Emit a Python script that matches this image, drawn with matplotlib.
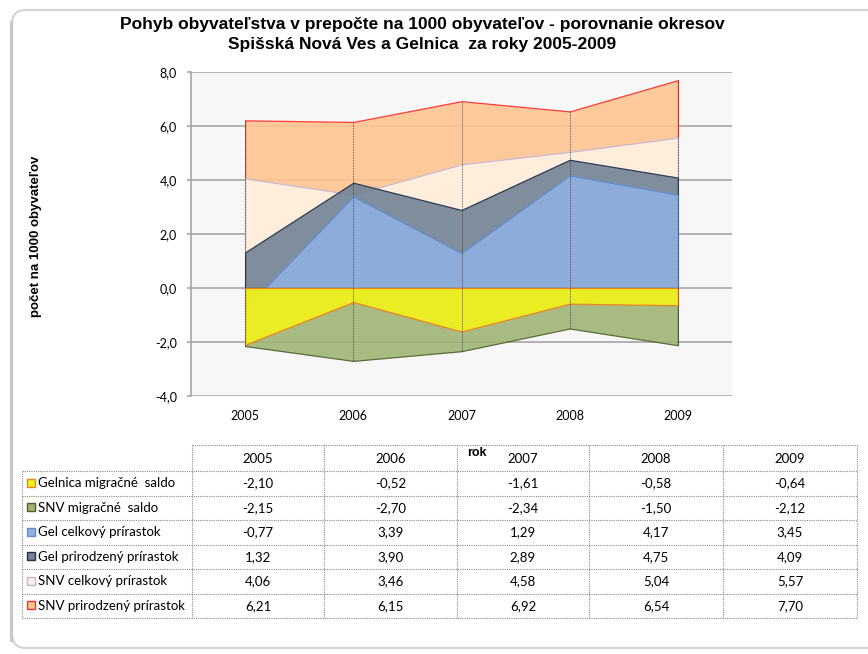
import matplotlib
matplotlib.use("Agg")
import matplotlib.pyplot as plt
from matplotlib.patches import FancyBboxPatch, Rectangle
from matplotlib.ticker import FuncFormatter
import numpy as np

# data
years = ["2005", "2006", "2007", "2008", "2009"]
series_names = ["Gelnica migračné  saldo", "SNV migračné  saldo", "Gel celkový prírastok",
                "Gel prirodzený prírastok", "SNV celkový prírastok", "SNV prirodzený prírastok"]
gel_migr = [-2.10, -0.52, -1.61, -0.58, -0.64]
snv_migr = [-2.15, -2.70, -2.34, -1.50, -2.12]
gel_celk = [-0.77, 3.39, 1.29, 4.17, 3.45]
gel_prir = [1.32, 3.90, 2.89, 4.75, 4.09]
snv_celk = [4.06, 3.46, 4.58, 5.04, 5.57]
snv_prir = [6.21, 6.15, 6.92, 6.54, 7.70]
values = [gel_migr, snv_migr, gel_celk, gel_prir, snv_celk, snv_prir]

face = ["#EEF01E", "#A0B575", "#90B0E0", "#728396", "#FEF3E3", "#FFC592"]
edge = ["#F08020", "#4F6228", "#5B8ED6", "#1F2F4F", "#C4B4D8", "#FF2A2A"]
alphas = [0.95, 0.9, 0.9, 0.9, 0.9, 0.9]

W, H = 868, 654
fig = plt.figure(figsize=(W / 100, H / 100), dpi=100)

# background layer in pixel coords (frame + data table)
bg = fig.add_axes([0, 0, 1, 1], zorder=0)
bg.set_xlim(0, W)
bg.set_ylim(H, 0)
bg.axis("off")

bg.add_patch(FancyBboxPatch((12, 10), 900, 638, boxstyle="round,pad=0,rounding_size=14",
                            facecolor="white", edgecolor="#D4D4D4", linewidth=1.6))
bg.plot([11, 11], [22, 640], color="#C8C8C8", lw=2.2)

# chart
ax = fig.add_axes([191 / W, 1 - 396 / H, (732 - 191) / W, (396 - 72) / H], zorder=1)
ax.set_facecolor("#F7F7F7")
x = np.arange(len(years))
ax.set_xlim(-0.5, 4.5)
ax.set_ylim(-4, 8)
ax.set_yticks(np.arange(-4, 9, 2))
ax.yaxis.grid(True, color="#A6A6A6", lw=1.2)
ax.set_axisbelow(True)

# back to front: last series drawn first
for i in range(len(values) - 1, -1, -1):
    ax.fill_between(x, 0, values[i], facecolor=face[i], edgecolor=edge[i],
                    linewidth=0.9, alpha=alphas[i], zorder=2 + (5 - i))

allv = np.array(values)
ax.vlines(x, allv.min(axis=0), allv.max(axis=0), colors="#333333",
          linestyles=(0, (2, 1.2)), linewidth=0.6, zorder=10, alpha=0.7)

for s in ["top", "right", "bottom"]:
    ax.spines[s].set_visible(False)
ax.spines["left"].set_color("#A6A6A6")
ax.spines["left"].set_linewidth(1.2)

tick_font = dict(family="Lato", size=9)
table_font = dict(family="Lato", size=9.5)
ax.set_xticks(x)
ax.set_xticklabels(years, **tick_font)
ax.tick_params(axis="x", length=0, pad=10)
ax.yaxis.set_major_formatter(FuncFormatter(lambda v, p: f"{v:.1f}".replace(".", ",")))
for lab in ax.get_yticklabels():
    lab.set_family("Lato")
    lab.set_size(9)
ax.tick_params(axis="y", length=3, color="#A6A6A6", width=1.2, pad=7)

# titles
fig.text(422 / W, 1 - 25 / H, "Pohyb obyvateľstva v prepočte na 1000 obyvateľov - porovnanie okresov",
         ha="center", va="center", family="Liberation Sans", weight="bold", size=12.5)
fig.text(422 / W, 1 - 44 / H, "Spišská Nová Ves a Gelnica  za roky 2005-2009",
         ha="center", va="center", family="Liberation Sans", weight="bold", size=12.5)
fig.text(36 / W, 1 - 236 / H, "počet na 1000 obyvateľov", rotation=90, ha="center", va="center",
         family="Liberation Sans", weight="bold", size=9.5)

# data table
cols = [192, 324, 457, 589, 723, 857]
row_left = 22
head_top, body_top, row_h = 445, 471, 24.5
n = len(series_names)
bottom = body_top + n * row_h
dot = dict(color="#8C8C8C", lw=0.8, linestyle=(0, (1, 1)))
bg.plot([cols[0], cols[-1]], [head_top, head_top], **dot)
for k in range(n + 1):
    yy = body_top + k * row_h
    bg.plot([row_left, cols[-1]], [yy, yy], **dot)
for c in cols:
    bg.plot([c, c], [head_top, bottom], **dot)
bg.plot([row_left, row_left], [body_top, bottom], **dot)

for j, yr in enumerate(years):
    bg.text((cols[j] + cols[j + 1]) / 2, 459, yr, ha="center", va="center", **table_font)
bg.text(467, 453, "rok", ha="left", va="center", family="Liberation Sans", weight="bold", size=9)

for i, name in enumerate(series_names):
    yc = body_top + (i + 0.5) * row_h
    bg.add_patch(Rectangle((27, yc - 4.5), 8, 8, facecolor=face[i], edgecolor=edge[i], lw=1.0))
    bg.text(38, yc, name, ha="left", va="center", **table_font)
    for j, v in enumerate(values[i]):
        bg.text((cols[j] + cols[j + 1]) / 2, yc, f"{v:.2f}".replace(".", ","),
                ha="center", va="center", **table_font)

fig.savefig("out.png", dpi=100)
